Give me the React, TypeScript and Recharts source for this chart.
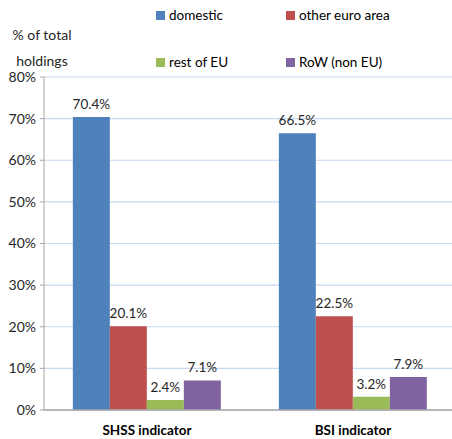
import React from 'react';
import { BarChart, Bar, XAxis, YAxis, CartesianGrid, LabelList } from 'recharts';

const categories = ['SHSS indicator', 'BSI indicator'];
const domestic = [70.4, 66.5];
const otherEuroArea = [20.1, 22.5];
const restOfEU = [2.4, 3.2];
const rowNonEU = [7.1, 7.9];
const yTicks = [0, 10, 20, 30, 40, 50, 60, 70, 80];

const series = [
  { key: 'domestic', name: 'domestic', color: '#4f81bd' },
  { key: 'other', name: 'other euro area', color: '#c0504d' },
  { key: 'rest', name: 'rest of EU', color: '#9bbb59' },
  { key: 'row', name: 'RoW (non EU)', color: '#8064a2' },
];

const data = categories.map((c, i) => ({
  name: c,
  domestic: domestic[i],
  other: otherEuroArea[i],
  rest: restOfEU[i],
  row: rowNonEU[i],
}));

const FONT = 'Lato, "Open Sans", sans-serif';

const legendPos = [
  { left: 156, top: 7 },
  { left: 286, top: 7 },
  { left: 156, top: 54 },
  { left: 286, top: 54 },
];

export default function App() {
  return (
    <div style={{ position: 'absolute', left: 0, top: 0, width: 452, height: 439, overflow: 'hidden', background: '#fff', fontFamily: FONT }}>
      <BarChart
        width={456}
        height={439}
        data={data}
        margin={{ top: 77, right: 0, bottom: 0, left: 0 }}
        barCategoryGap="14%"
        barGap={0}
      >
        <CartesianGrid horizontal vertical={false} stroke="#c6d9f1" strokeWidth={1.2} />
        <XAxis
          dataKey="name"
          xAxisId="cat"
          height={29}
          tickLine={false}
          axisLine={{ stroke: '#a6a6a6', strokeWidth: 1.5 }}
          tick={{ fontSize: 13.5, fontWeight: 700, fill: '#000', fontFamily: FONT }}
          tickMargin={9}
        />
        <XAxis
          xAxisId="bound"
          type="number"
          domain={[0, 2]}
          ticks={[1]}
          tick={false}
          axisLine={false}
          tickLine={{ stroke: '#7f7f7f' }}
          tickSize={5}
          height={0}
        />
        <YAxis
          width={44}
          domain={[0, 80]}
          ticks={yTicks}
          interval={0}
          tickFormatter={(v: number) => `${v}%`}
          axisLine={{ stroke: '#a6a6a6' }}
          tickLine={{ stroke: '#a6a6a6' }}
          tickSize={4}
          tickMargin={4}
          tick={{ fontSize: 14, fill: '#262626', fontFamily: FONT }}
        />
        {series.map((s) => (
          <Bar key={s.key} dataKey={s.key} name={s.name} xAxisId="cat" fill={s.color} isAnimationActive={false}>
            <LabelList
              dataKey={s.key}
              position="top"
              offset={8}
              formatter={(v: number) => `${v.toFixed(1)}%`}
              style={{ fontSize: 13.5, fill: '#262626', fontFamily: FONT }}
            />
          </Bar>
        ))}
      </BarChart>
      <div style={{ position: 'absolute', left: 0, top: 22, width: 84, textAlign: 'center', fontSize: 14, lineHeight: '26px', color: '#262626' }}>
        % of total
        <br />
        holdings
      </div>
      {series.map((s, i) => (
        <div key={s.key} style={{ position: 'absolute', left: legendPos[i].left, top: legendPos[i].top, display: 'flex', alignItems: 'center', fontSize: 13.5, color: '#000', whiteSpace: 'nowrap' }}>
          <span style={{ display: 'inline-block', width: 9, height: 9, background: s.color, marginRight: 4 }} />
          <span>{s.name}</span>
        </div>
      ))}
    </div>
  );
}
